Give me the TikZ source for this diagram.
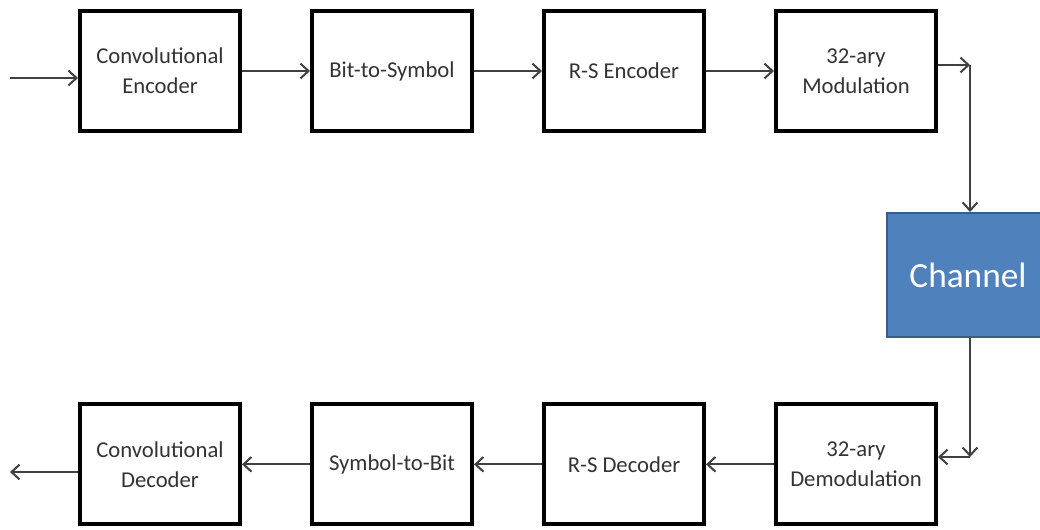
\documentclass[tikz,border=0pt]{standalone}
\usepackage{fontspec}
\setmainfont{Carlito}
\usepackage{xcolor}
\usetikzlibrary{arrows.meta,positioning}
\definecolor{chan}{RGB}{79,129,189}
\definecolor{chanedge}{RGB}{56,93,138}
\definecolor{wire}{RGB}{64,64,64}

\tikzset{
  block/.style={draw=black, line width=3pt, fill=white, align=center,
    minimum width=120pt, minimum height=90pt, text=black!80,
    font=\fontsize{17}{22.5}\selectfont},
  link/.style={draw=wire, line width=1.5pt,
    -{Straight Barb[length=6pt, width=11pt, line width=1.5pt]}},
}

\begin{document}
\begin{tikzpicture}[x=0.75pt, y=-0.75pt, node distance=202pt and 51pt]
  \clip (0,0) rectangle (1040,529);
  \fill[white] (0,0) rectangle (1040,529);

  % transmitter chain
  \node[block] (conv) at (160,71) {Convolutional\\Encoder};
  \node[block, right=of conv] (b2s) {Bit-to-Symbol};
  \node[block, right=of b2s] (rsenc) {R-S Encoder};
  \node[block, right=of rsenc] (mod) {32-ary\\Modulation};

  % receiver chain, right to left
  \node[block, below=of mod] (demod) {32-ary\\Demodulation};
  \node[block, left=of demod] (rsdec) {R-S Decoder};
  \node[block, left=of rsdec] (s2b) {Symbol-to-Bit};
  \node[block, left=of s2b] (vit) {Convolutional\\Decoder};

  \node[draw=chanedge, line width=1.5pt, fill=chan, text=white,
    minimum width=121pt, minimum height=93pt,
    font=\fontsize{26.5}{30}\selectfont] (chn) at (968,275) {Channel};

  \coordinate (in) at (10,78);
  \coordinate (out) at (10,472);
  \coordinate (tx) at (970,65);
  \coordinate (rx) at (970,457);

  \draw[link] (in) -- (in -| conv.west);
  \draw[link] (conv) -- (b2s);
  \draw[link] (b2s) -- (rsenc);
  \draw[link] (rsenc) -- (mod);
  \draw[link] (mod.east |- tx) -- (tx);
  \draw[link] (tx) -- (tx |- chn.north);
  \draw[link] (chn.south -| rx) -- (rx);
  \draw[link] (rx) -- (rx -| demod.east);
  \draw[link] (demod) -- (rsdec);
  \draw[link] (rsdec) -- (s2b);
  \draw[link] (s2b) -- (vit);
  \draw[link] (vit.west |- out) -- (out);
\end{tikzpicture}
\end{document}
